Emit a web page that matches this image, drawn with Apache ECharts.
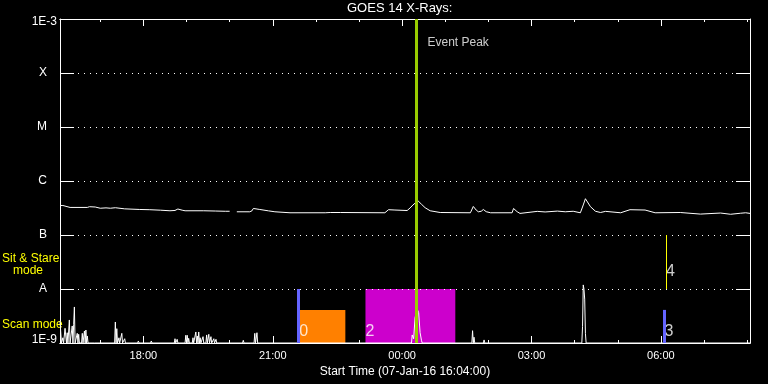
<!DOCTYPE html>
<html><head><meta charset="utf-8">
<script src="https://cdn.jsdelivr.net/npm/echarts@6/dist/echarts.min.js"></script>
<style>html,body{margin:0;padding:0;background:#000}#c{width:768px;height:384px}</style>
</head><body><div id="c"></div>
<script>
// ---------------- data ----------------
const START = '16:04';
const END = '08:04';
const titleText = 'GOES 14 X-Rays:';
const xAxisName = 'Start Time (07-Jan-16 16:04:00)';
const majorTickLabels = ['18:00', '21:00', '00:00', '03:00', '06:00'];
const minorTickTimes = ['17:00', '18:00', '19:00', '20:00', '21:00', '22:00', '23:00', '00:00',
  '01:00', '02:00', '03:00', '04:00', '05:00', '06:00', '07:00', '08:00'];
const yTickValues = [1e-9, 1e-8, 1e-7, 1e-6, 1e-5, 1e-4, 1e-3];
const yTickLabels = ['1E-9', 'A', 'B', 'C', 'M', 'X', '1E-3'];
const flareLevels = [1e-8, 1e-7, 1e-6, 1e-5, 1e-4];
const modeLabelValues = [2.2e-9, 2.77e-8];
const modeLabels = ['Scan mode', 'Sit & Stare|mode'];

// GOES long channel (1-8 A), [time, W/m2]; null = data gap
const longChannel = [
  ['16:04', 3.52e-7], ['16:08', 3.52e-7], ['16:18', 3.24e-7], ['16:42', 3.24e-7], ['16:45', 3.34e-7],
  ['16:53', 3.30e-7], ['17:00', 3.13e-7], ['17:08', 3.18e-7], ['17:14', 3.13e-7], ['17:21', 3.20e-7],
  ['17:34', 3.05e-7], ['17:55', 2.97e-7], ['18:09', 2.94e-7], ['18:24', 2.88e-7], ['18:37', 2.81e-7],
  ['18:44', 2.85e-7], ['18:48', 3.03e-7], ['18:54', 2.88e-7], ['18:58', 2.81e-7], ['19:24', 2.81e-7],
  ['19:40', 2.78e-7], ['19:54', 2.75e-7], ['20:00', 2.75e-7], ['20:05', null], ['20:10', 2.69e-7],
  ['20:28', 2.69e-7], ['20:31', 2.80e-7], ['20:33', 3.10e-7], ['20:42', 2.97e-7], ['20:54', 2.80e-7],
  ['21:03', 2.69e-7], ['21:24', 2.58e-7], ['22:13', 2.58e-7], ['22:20', 2.61e-7], ['22:34', 2.61e-7],
  ['23:36', 2.58e-7], ['23:41', 2.94e-7], ['23:50', 2.90e-7], ['00:07', 2.84e-7], ['00:11', 3.16e-7],
  ['00:15', 3.59e-7], ['00:22', 4.31e-7], ['00:27', 3.70e-7], ['00:32', 3.20e-7], ['00:39', 2.81e-7],
  ['00:53', 2.61e-7], ['01:35', 2.58e-7], ['01:39', 3.38e-7], ['01:43', 2.90e-7], ['01:46', 2.69e-7],
  ['01:50', 2.75e-7], ['01:53', 2.97e-7], ['01:57', 2.70e-7], ['02:03', 2.58e-7], ['02:33', 2.58e-7],
  ['02:35', 3.10e-7], ['02:40', 2.70e-7], ['02:44', 2.51e-7], ['03:08', 2.74e-7], ['03:19', 2.67e-7],
  ['03:36', 2.77e-7], ['03:47', 2.69e-7], ['03:58', 2.75e-7], ['04:08', 2.58e-7], ['04:12', 3.60e-7],
  ['04:15', 4.70e-7], ['04:22', 3.34e-7], ['04:29', 2.75e-7], ['04:36', 2.61e-7], ['04:43', 2.74e-7],
  ['05:04', 2.58e-7], ['05:17', 2.94e-7], ['05:38', 2.90e-7], ['05:52', 2.58e-7], ['06:27', 2.61e-7],
  ['06:55', 2.44e-7], ['07:23', 2.55e-7], ['07:37', 2.42e-7], ['07:51', 2.53e-7], ['07:58', 2.58e-7],
  ['08:04', 2.51e-7]
];

// GOES short channel (0.5-4 A), [time, W/m2]; 1e-9 is the plot floor
const F = 1e-9;
const shortChannel = [
  ['16:04', 2.56e-9], ['16:05', 1.6e-9], ['16:06', F], ['16:08', 1.25e-9], ['16:09', F],
  ['16:11', 1.87e-9], ['16:12', 1.92e-9], ['16:13', F], ['16:14', 1.55e-9], ['16:15', F], ['16:16', F],
  ['16:17', 2.67e-9], ['16:18', F], ['16:20', F], ['16:21', 2.07e-9], ['16:22', F], ['16:23', 2.22e-9],
  ['16:24', 4.65e-9], ['16:25', F], ['16:27', F], ['16:28', 1.51e-9], ['16:29', F], ['16:30', 1.45e-9],
  ['16:31', F], ['16:34', F], ['16:35', 1.51e-9], ['16:36', F], ['16:37', F], ['16:38', 1.67e-9],
  ['16:39', F], ['16:40', 1.74e-9], ['16:41', F], ['16:42', 1.35e-9], ['16:43', F],
  ['16:52', F], ['16:53', 1.06e-9], ['16:54', F],
  ['17:20', F], ['17:21', 2.45e-9], ['17:22', F], ['17:23', 1.84e-9], ['17:24', F],
  ['17:25', F], ['17:26', 1.25e-9], ['17:27', F], ['17:29', F], ['17:30', 1.51e-9], ['17:31', F],
  ['17:33', F], ['17:34', 1.2e-9], ['17:35', F], ['17:52', F], ['17:53', 1.09e-9], ['17:54', F],
  ['18:10', F], ['18:11', 1.09e-9], ['18:12', F], ['18:43', F], ['18:44', 1.2e-9], ['18:45', F],
  ['18:46', F], ['18:47', 1.17e-9], ['18:48', F],
  ['18:58', F], ['18:59', 1.39e-9], ['19:00', F], ['19:01', 1.39e-9], ['19:02', F],
  ['19:03', 1.22e-9], ['19:04', F], ['19:08', F], ['19:09', 1.25e-9], ['19:10', F],
  ['19:12', F], ['19:13', 1.6e-9], ['19:14', F], ['19:15', 1.35e-9], ['19:16', F], ['19:17', 1.6e-9],
  ['19:18', F], ['19:19', 1.25e-9], ['19:20', F], ['19:22', F], ['19:23', 1.31e-9], ['19:24', F],
  ['19:27', F], ['19:28', 1.41e-9], ['19:29', F], ['19:31', 1.45e-9], ['19:32', F],
  ['19:33', F], ['19:34', 1.31e-9], ['19:35', F], ['19:37', F], ['19:38', 1.2e-9], ['19:39', F],
  ['19:40', F], ['19:41', 1.17e-9], ['19:42', F],
  ['20:18', F], ['20:19', 1.12e-9], ['20:20', F],
  ['20:34', F], ['20:35', 1.51e-9], ['20:36', F], ['20:37', F], ['20:38', 1.55e-9], ['20:39', F],
  ['00:13', F], ['00:14', 1.41e-9], ['00:15', 1.3e-9], ['00:16', 1.2e-9], ['00:18', 2.95e-9],
  ['00:21', 4.22e-9], ['00:23', 3.65e-9], ['00:25', 1.55e-9], ['00:27', 1.1e-9], ['00:28', F],
  ['01:37', F], ['01:38', 1.69e-9], ['01:39', F], ['01:40', 1.28e-9], ['01:41', F],
  ['01:53', F], ['01:54', 1.14e-9], ['01:55', F],
  ['04:10', F], ['04:11', 2.0e-9], ['04:12', 1.19e-8], ['04:13', 9.9e-9], ['04:14', 6.5e-9],
  ['04:15', 1.51e-9], ['04:16', F], ['08:04', F]
];

const eventPeakTime = '00:20';
const eventPeakLabel = 'Event Peak';
// scan-mode observation windows: [start, end, top flux]
const scanRegions = [
  ['21:37', '22:41', 4.1e-9],
  ['23:09', '01:14', 1e-8]
];
// mode change marks: [time, from flux, to flux]
const modeMarks = [
  ['21:35', 1e-9, 1e-8],
  ['06:05', 1e-9, 4.1e-9],
  ['06:07', 1e-8, 1e-7]
];
// numbered labels: [time, flux, text]
const markLabels = [
  ['21:37', 1.6e-9, '0'],
  ['23:09', 1.6e-9, '2'],
  ['06:05', 1.6e-9, '3'],
  ['06:07', 2.08e-8, '4']
];

// ---------------- styles ----------------
const FONT = 'Liberation Sans';
const WHITE = '#ffffff';
const YELLOW = '#ffff00';
const regionColors = ['#ff8000', '#cc00cc'];
const markColors = ['#6464ff', '#6464ff', '#ffff00'];
const markWidths = [3, 3, 1];
const peakColor = '#99cc00';

function toMin(t) {
  const [h, m] = t.split(':').map(Number);
  const [sh, sm] = START.split(':').map(Number);
  let d = h * 60 + m - (sh * 60 + sm);
  if (d < 0) d += 1440;
  return d;
}
const xMax = toMin(END) === 0 ? 1440 : toMin(END);
const majorTicks = majorTickLabels.map(toMin);
const minorTicks = minorTickTimes.map(toMin);
const sameLog = (a, b) => Math.abs(Math.log10(a) - Math.log10(b)) < 1e-3;

function yLab(v) {
  let i = yTickValues.findIndex(t => sameLog(t, v));
  if (i >= 0) {
    const s = yTickLabels[i];
    if (i === 0) return '{bot|' + s + '}';
    if (i === yTickValues.length - 1) return '{top|' + s + '}';
    return '{let|' + s + '}';
  }
  i = modeLabelValues.findIndex(t => sameLog(t, v));
  if (i < 0) return '';
  const parts = modeLabels[i].split('|');
  if (parts.length === 1) return '{m|' + parts[0] + '}';
  return '{m|' + parts[0] + '}\n{i|' + parts[1] + '}';
}

function xAxisDef(position, ticks, len, withLabel) {
  return {
    type: 'value', position: position, min: 0, max: xMax, gridIndex: 0,
    axisLine: { show: true, onZero: false, lineStyle: { color: WHITE, width: 1 } },
    axisTick: { show: true, inside: true, length: len, customValues: ticks, lineStyle: { color: WHITE, width: 1 } },
    axisLabel: withLabel ? {
      show: true, customValues: majorTicks, margin: 7, fontSize: 11, color: WHITE, fontFamily: FONT,
      formatter: v => { const i = majorTicks.indexOf(v); return i < 0 ? '' : majorTickLabels[i]; }
    } : { show: false },
    splitLine: { show: false },
    name: withLabel && position === 'bottom' ? xAxisName : '',
    nameLocation: 'middle', nameGap: 19,
    nameTextStyle: { color: WHITE, fontSize: 12, fontFamily: FONT }
  };
}

function yAxisDef(position, withLabel) {
  return {
    type: 'log', logBase: 10, min: 1e-9, max: 1e-3, position: position, gridIndex: 0,
    axisLine: { show: true, onZero: false, lineStyle: { color: WHITE, width: 1 } },
    axisTick: { show: true, inside: true, length: 14, customValues: yTickValues, lineStyle: { color: WHITE, width: 1 } },
    axisLabel: withLabel ? {
      show: true, customValues: yTickValues.concat(modeLabelValues), margin: 3,
      fontSize: 12, color: WHITE, fontFamily: FONT, formatter: yLab,
      rich: {
        top: { padding: [6, 0, 0, 0], fontSize: 12, color: WHITE, fontFamily: FONT },
        bot: { padding: [0, 0, 6, 0], fontSize: 12, color: WHITE, fontFamily: FONT },
        let: { padding: [0, 10, 0, 0], fontSize: 12, color: WHITE, fontFamily: FONT },
        m: { width: 55, align: 'left', fontSize: 12, lineHeight: 12, color: YELLOW, fontFamily: FONT },
        i: { width: 44, align: 'left', padding: [0, 0, 0, 11], fontSize: 12, lineHeight: 12, color: YELLOW, fontFamily: FONT }
      }
    } : { show: false },
    splitLine: { show: false }
  };
}

const option = {
  backgroundColor: '#000',
  animation: false,
  title: {
    text: titleText, left: 347, top: 2, padding: 0,
    textStyle: { color: WHITE, fontSize: 13, fontWeight: 'normal', fontFamily: FONT }
  },
  grid: { left: 60, right: 18, top: 19, bottom: 41, containLabel: false, outerBoundsMode: 'none' },
  xAxis: [
    xAxisDef('bottom', minorTicks, 3, false),
    xAxisDef('bottom', majorTicks, 7, true),
    xAxisDef('top', minorTicks, 3, false),
    xAxisDef('top', majorTicks, 7, false)
  ],
  yAxis: [
    yAxisDef('left', true),
    yAxisDef('right', false)
  ],
  series: [
    {
      type: 'line', name: 'scan regions', data: [], z: 1, silent: true,
      markArea: {
        silent: true,
        data: scanRegions.map((r, i) => [
          { coord: [toMin(r[0]), r[2]], itemStyle: { color: regionColors[i], opacity: 1, borderWidth: 0 } },
          { coord: [toMin(r[1]), 1e-9] }
        ])
      }
    },
    {
      type: 'line', name: 'levels', data: [], z: 1, silent: true,
      markLine: {
        silent: true, symbol: ['none', 'none'], label: { show: false },
        lineStyle: { color: WHITE, width: 1, type: [1, 5], opacity: 1 },
        data: flareLevels.map(v => [{ coord: [0, v] }, { coord: [xMax, v] }])
      }
    },
    {
      type: 'line', name: 'short', z: 2, silent: true,
      data: shortChannel.map(p => [toMin(p[0]), p[1]]),
      symbol: 'none', showSymbol: false,
      lineStyle: { color: WHITE, width: 1 }
    },
    {
      type: 'line', name: 'long', z: 2, silent: true, connectNulls: false,
      data: longChannel.map(p => [toMin(p[0]), p[1] === null ? '-' : p[1]]),
      symbol: 'none', showSymbol: false,
      lineStyle: { color: WHITE, width: 1 }
    },
    {
      type: 'line', name: 'marks', data: [], z: 3, silent: true,
      markLine: {
        silent: true, symbol: ['none', 'none'], label: { show: false },
        data: modeMarks.map((m, i) => [
          { coord: [toMin(m[0]), m[1]], lineStyle: { color: markColors[i], width: markWidths[i], type: 'solid', opacity: 1 } },
          { coord: [toMin(m[0]), m[2]] }
        ]).concat([[
          { coord: [toMin(eventPeakTime), 1e-9], lineStyle: { color: peakColor, width: 3, type: 'solid', opacity: 1 } },
          { coord: [toMin(eventPeakTime), 1e-3] }
        ]])
      }
    },
    {
      type: 'scatter', name: 'labels', z: 4, silent: true, symbolSize: 0,
      data: markLabels.map(l => [toMin(l[0]), l[1], l[2]]),
      label: {
        show: true, position: 'inside', align: 'left', verticalAlign: 'middle',
        formatter: p => p.value[2], color: WHITE, fontSize: 16, fontFamily: FONT
      }
    },
    {
      type: 'scatter', name: 'peak label', z: 4, silent: true, symbolSize: 0,
      data: [[toMin(eventPeakTime), 3.7e-4, eventPeakLabel]],
      label: {
        show: true, position: 'inside', align: 'left', verticalAlign: 'middle', offset: [11, 0],
        formatter: p => p.value[2], color: WHITE, fontSize: 12, fontFamily: FONT
      }
    }
  ]
};

const chart = echarts.init(document.getElementById('c'), null, { renderer: 'canvas' });
chart.setOption(option);
</script>
</body></html>
